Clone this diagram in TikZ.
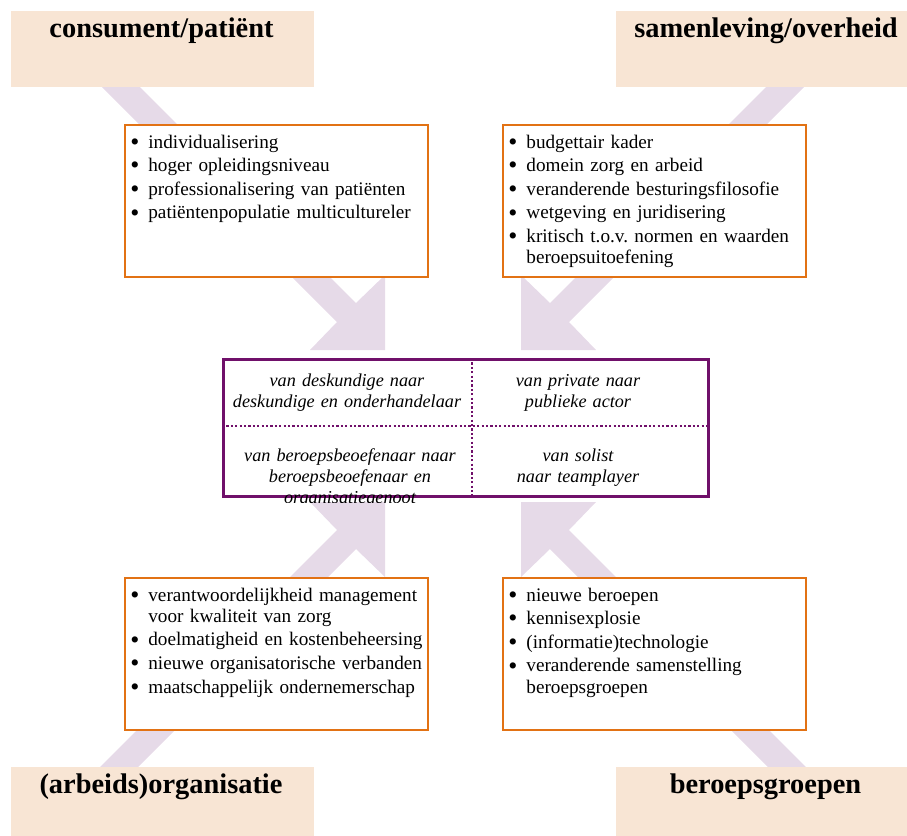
\documentclass[tikz,border=0pt]{standalone}
\usepackage{fontspec}
\setmainfont{Liberation Serif}
\definecolor{peach}{RGB}{248,229,212}
\definecolor{lilac}{RGB}{230,218,232}
\definecolor{orangeb}{RGB}{226,114,20}
\definecolor{plum}{RGB}{112,16,106}
\frenchspacing
\newcommand\itm[1]{\hangindent=9pt\hangafter=1\makebox[9pt][l]{\smash{\raisebox{-1.1pt}{\scalebox{1.35}{\textbullet}}}}#1\par}
\tikzset{
  titlebox/.style={fill=peach, draw=none, minimum width=151.5pt, minimum height=38pt, inner sep=0pt, anchor=north west},
  titletext/.style={anchor=base, inner sep=0pt, font=\bfseries\fontsize{14.2pt}{17pt}\selectfont},
  listbox/.style={draw=orangeb, line width=1pt, fill=white, minimum width=151.5pt, minimum height=76pt, inner sep=0pt, anchor=north west},
  listtext/.style={anchor=base west, inner sep=0pt, text width=150pt, align=left,
     font=\fontsize{9.6pt}{10.65pt}\selectfont, execute at begin node={\setlength{\parskip}{1.15pt}}},
  celltext/.style={anchor=base, inner sep=0pt, text width=125pt, align=center,
     font=\itshape\fontsize{9.1pt}{10.5pt}\selectfont},
  arrowfill/.style={fill=lilac, draw=none},
  divider/.style={draw=plum, line width=1.1pt, dash pattern=on 1.1pt off 1.1pt}
}
\begin{document}
\begin{tikzpicture}[x=0.5pt, y=-0.5pt]
\useasboundingbox (0,0) rectangle (907,836);
\clip (0,0) rectangle (907,836);
% arrows
\fill[arrowfill] (103,50) -- (356,303) -- (385,275) -- (385,350) -- (310,350) -- (337,322) -- (65,50) -- cycle;
\fill[arrowfill] (803,50) -- (550,303) -- (521,275) -- (521,350) -- (596,350) -- (569,322) -- (841,50) -- cycle;
\fill[arrowfill] (103,802) -- (356,549) -- (385,577) -- (385,502) -- (310,502) -- (337,530) -- (65,802) -- cycle;
\fill[arrowfill] (803,802) -- (550,549) -- (521,577) -- (521,502) -- (596,502) -- (569,530) -- (841,802) -- cycle;
% title boxes
\node[titlebox] (tlbox) at (11,11) {};
\node[titlebox] (trbox) at (616,11) {};
\node[titlebox] (blbox) at (11,767) {};
\node[titlebox] (brbox) at (616,767) {};
\node[titletext] (tltxt) at (161.5,37) {consument/patiënt};
\node[titletext] (trtxt) at (766,37) {samenleving/overheid};
\node[titletext] (bltxt) at (161,793) {(arbeids)organisatie};
\node[titletext] (brtxt) at (765.5,793) {beroepsgroepen};
% list boxes
\node[listbox] (tllist) at (124,124) {};
\node[listbox] (trlist) at (502,124) {};
\node[listbox] (bllist) at (124,577) {};
\node[listbox] (brlist) at (502,577) {};
\node[listtext] (tlitems) at (130,148) {\itm{individualisering}\itm{hoger opleidingsniveau}\itm{professionalisering van patiënten}\itm{patiëntenpopulatie multicultureler}};
\node[listtext] (tritems) at (508,148) {\itm{budgettair kader}\itm{domein zorg en arbeid}\itm{veranderende besturingsfilosofie}\itm{wetgeving en juridisering}\itm{kritisch t.o.v. normen en waarden\newline beroepsuitoefening}};
\node[listtext] (blitems) at (130,601) {\itm{verantwoordelijkheid management\newline voor kwaliteit van zorg}\itm{doelmatigheid en kostenbeheersing}\itm{nieuwe organisatorische verbanden}\itm{maatschappelijk ondernemerschap}};
\node[listtext] (britems) at (508,601) {\itm{nieuwe beroepen}\itm{kennisexplosie}\itm{(informatie)technologie}\itm{veranderende samenstelling\newline beroepsgroepen}};
% central box
\node[draw=plum, line width=1.25pt, fill=white, minimum width=242.5pt, minimum height=68.5pt, inner sep=0pt, anchor=north west] (mid) at (222,358) {};
\draw[divider] (472,358) -- (472,495);
\draw[divider] (222,426) -- (707,426);
\node[celltext] (c1) at (347,386.7) {van deskundige naar\\deskundige en onderhandelaar};
\node[celltext] (c2) at (578,386.7) {van private naar\\publieke actor};
\node[celltext] (c4) at (578,461) {van solist\\naar teamplayer};
\begin{scope}
\clip (222,440) rectangle (472,502);
\node[celltext] (c3) at (350,461) {van beroepsbeoefenaar naar\\beroepsbeoefenaar en\\organisatiegenoot};
\end{scope}
\end{tikzpicture}
\end{document}
